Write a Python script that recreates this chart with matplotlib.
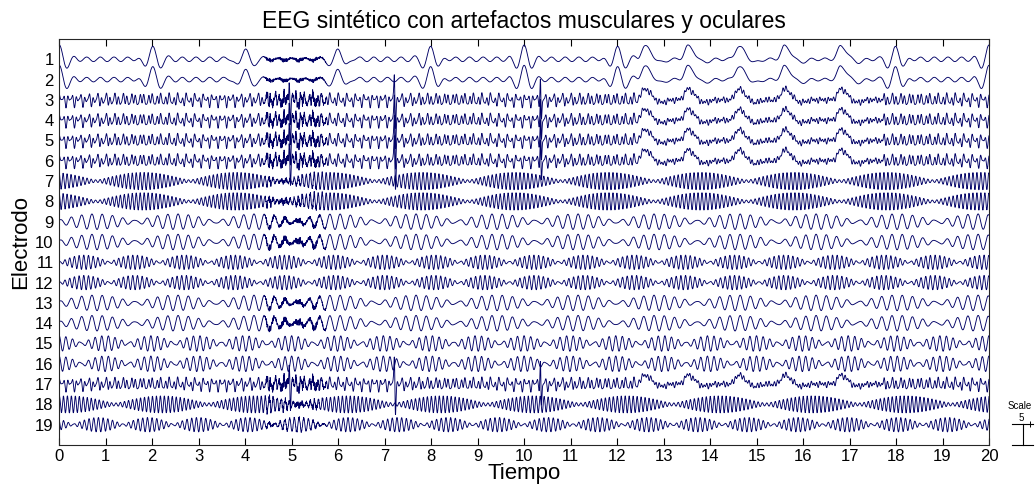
import numpy as np
import matplotlib
matplotlib.use("Agg")
from matplotlib import pyplot as plt
from matplotlib.lines import Line2D

plt.rcParams['font.family'] = ['Liberation Sans', 'DejaVu Sans']

# ---- values ----
fs = 256
duration = 20
channels = [str(i) for i in range(1, 20)]
time_ticks = list(range(0, 21))
spacing = 20.3
scale_label = "5"

# kind of activity in each electrode
channel_kind = ["eog", "eog", "mix", "mix", "mix", "mix", "beat", "beat", "beat", "beat",
                "beat", "beat", "beat", "beat", "beat", "beat", "mix", "beat", "beat"]

# two beating rhythms per channel: base frequency (Hz), beat (Hz), amplitudes, time of weakest envelope (s)
beat_f1 = [0, 0, 0, 0, 0, 0, 11.5, 11.5, 4.3, 4.3, 9.5, 9.5, 4.3, 4.3, 6.6, 6.6, 0, 11.5, 9.5]
beat_df = [0, 0, 0, 0, 0, 0, 0.5, 0.5, 0.58, 0.58, 0.93, 0.93, 0.58, 0.58, 1.0, 1.0, 0, 0.5, 0.93]
beat_a1 = [0, 0, 0, 0, 0, 0, 5.0, 5.0, 4.6, 4.6, 4.0, 4.0, 4.6, 4.6, 4.5, 4.5, 0, 5.0, 4.0]
beat_a2 = [0, 0, 0, 0, 0, 0, 3.7, 3.7, 3.2, 3.2, 3.2, 3.2, 3.2, 3.2, 3.3, 3.3, 0, 3.5, 3.2]
beat_tmin = [0, 0, 0, 0, 0, 0, 0.8, 0.8, 1.64, 1.64, 0.0, 0.0, 1.64, 1.64, 0.48, 0.48, 0, 1.2, 0.3]

# ocular channels (1-2): small ripple plus slow waves every two seconds
eog_ripple_freq = 3.4
eog_ripple_amp = 2.3
burst_times = [0, 2, 4, 6, 8, 10, 12, 18, 20]
burst_freq = 2.6
burst_amp = 12.0

# mixed channels (3-6, 17)
mix_freqs = [5.2, 11.0, 16.5]
mix_amps = [2.5, 3.8, 1.8]
mix_phases = [0.0, 1.1, 2.3]

# blink artefacts
blink_times = [12.59, 13.52, 14.61, 15.60, 16.81]
blink_span = [12.45, 17.75]
blink_amp = [13, 13, 11, 11, 11, 11, 0, 0, 0, 0, 0, 0, 0, 0, 0, 0, 9, 0, 0]

# muscle artefact
muscle_span = [4.37, 5.77]
muscle_freqs = [23, 37, 53, 67, 83, 97]
muscle_phases = [0.4, 2.1, 3.7, 1.2, 5.0, 2.9]
muscle_amp = [2.2, 2.2, 6, 6, 6, 6, 2.5, 3.5, 3, 4, 0, 0, 3, 4, 0, 0, 6, 3.5, 2]

# electrode pops
spike_times = [4.96, 7.22, 10.36]
spike_amp = [0, 0, 22, 22, 22, 22, 0, 0, 0, 0, 0, 0, 0, 0, 0, 0, 24, 0, 0]


t = np.arange(0, duration * fs + 1) / fs


def window(t, start, stop, ramp=0.08):
    up = np.clip((t - start) / ramp, 0, 1)
    down = np.clip((stop - t) / ramp, 0, 1)
    return up * down


def blink(dt):
    left = np.exp(-dt**2 / (2 * 0.07**2))
    right = np.exp(-dt**2 / (2 * 0.13**2))
    shape = np.where(dt < 0, left, right)
    return shape - 0.25 * np.exp(-(dt - 0.35)**2 / (2 * 0.1**2))


def spike(dt, sigma=0.012):
    return -(dt / sigma) * np.exp(0.5 - dt**2 / (2 * sigma**2))


in_blink = window(t, blink_span[0], blink_span[1], ramp=0.05)
in_muscle = window(t, muscle_span[0], muscle_span[1], ramp=0.1)

noise = np.zeros_like(t)
for f, p in zip(muscle_freqs, muscle_phases):
    noise += np.sin(2 * np.pi * f * t + p)
noise = noise / np.abs(noise).max() * (0.7 + 0.3 * np.cos(2 * np.pi * 3.1 * t))

signals = []
for i in range(len(channels)):
    kind = channel_kind[i]
    sig = np.zeros_like(t)
    if kind == "eog":
        ripple = eog_ripple_amp * np.cos(2 * np.pi * eog_ripple_freq * t)
        sig += ripple * (1 - 0.4 * in_blink) * (1 - 0.5 * in_muscle)
        for tb in burst_times:
            dt = t - tb
            sig += burst_amp * np.cos(2 * np.pi * burst_freq * dt) * np.exp(-dt**2 / (2 * 0.17**2))
    elif kind == "mix":
        for f, a, p in zip(mix_freqs, mix_amps, mix_phases):
            damp = 1.0 if f > 15 else 1 - 0.7 * in_blink
            sig += a * damp * np.sin(2 * np.pi * f * t + p)
    else:
        f1 = beat_f1[i]
        f2 = f1 + beat_df[i]
        phase = np.pi - 2 * np.pi * beat_df[i] * beat_tmin[i]
        sig += beat_a1[i] * np.cos(2 * np.pi * f1 * t)
        sig += beat_a2[i] * np.cos(2 * np.pi * f2 * t + phase)

    for tb in blink_times:
        sig += blink_amp[i] * blink(t - tb)
    sig += muscle_amp[i] * in_muscle * noise
    for ts in spike_times:
        sig += spike_amp[i] * spike(t - ts)
    signals.append(sig)

offsets = [(len(channels) - i) * spacing for i in range(len(channels))]

fig = plt.figure(figsize=(10.36, 4.91), dpi=100)
ax = fig.add_axes([59.3 / 1036, 1 - 445 / 491, 929.7 / 1036, 406 / 491])

for sig, off in zip(signals, offsets):
    ax.plot(t, sig + off, color=(0, 0, 0.4), lw=0.65)

ax.set_xlim(0, duration)
ax.set_ylim(0, (len(channels) + 1) * spacing)
ax.set_xticks(time_ticks)
ax.set_yticks(offsets)
ax.set_yticklabels(channels)
ax.tick_params(axis='x', direction='in', length=5, top=True, labelsize=12, pad=3)
ax.tick_params(axis='y', direction='in', length=0, labelsize=12, pad=4)
for s in ax.spines.values():
    s.set_linewidth(0.8)
    s.set_color('#262626')

ax.set_title("EEG sintético con artefactos musculares y oculares", fontsize=16.5, pad=8)
ax.set_xlabel("Tiempo", fontsize=16, labelpad=-1)
ax.set_ylabel("Electrodo", fontsize=16, labelpad=3)

# scale bar at the right
def fx(x):
    return x / 1036


def fy(y):
    return 1 - y / 491


fig.text(fx(1020), fy(406), "Scale", fontsize=7, ha='center', va='center')
fig.text(fx(1021), fy(418), scale_label, fontsize=7, ha='center', va='center')
bar_top, bar_bot = 424, 445
fig.add_artist(Line2D([fx(1023), fx(1023)], [fy(bar_top), fy(bar_bot)], color='k', lw=0.8))
fig.add_artist(Line2D([fx(1012), fx(1033)], [fy(bar_top), fy(bar_top)], color='k', lw=0.8))
fig.add_artist(Line2D([fx(1012), fx(1033)], [fy(bar_bot), fy(bar_bot)], color='k', lw=0.8))
fig.add_artist(Line2D([fx(1030)], [fy(bar_top)], marker='+', color='k', ms=4, mew=0.7))

fig.savefig("out.png", dpi=100)
